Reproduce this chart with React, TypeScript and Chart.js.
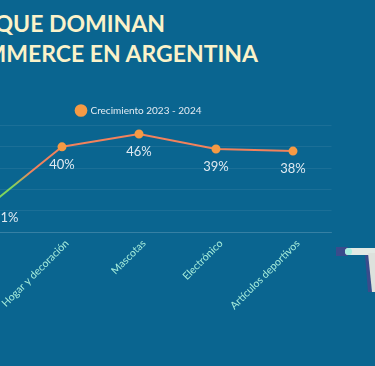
import React, { useEffect, useRef } from "react";
import { Chart, registerables } from "chart.js";

Chart.register(...registerables);

const categories = ["Moda e indumentaria", "Hogar y decoración", "Mascotas", "Electrónico", "Artículos deportivos"];
const growth = [11, 40, 46, 39, 38];
const seriesLabel = "Crecimiento 2023 - 2024";
const yMin = 0;
const yMax = 50;
const yStep = 10;
const titleLine1 = "RUBROS QUE DOMINAN";
const titleLine2 = "EL ECOMMERCE EN ARGENTINA";

const BG = "#0a6590";
const LINE = "#f2825c";
const POINT = "#f59a45";
const GREEN = "#7fd65c";

const valueLabels = {
  id: "valueLabels",
  afterDatasetsDraw(chart: any) {
    const ctx = chart.ctx;
    const meta = chart.getDatasetMeta(0);
    const data = chart.data.datasets[0].data;
    ctx.save();
    ctx.font = "13px Lato";
    ctx.fillStyle = "#dfe9f1";
    ctx.textBaseline = "middle";
    meta.data.forEach((pt: any, i: number) => {
      const txt = data[i] + "%";
      if (i === 0) {
        ctx.textAlign = "left";
        ctx.fillText(txt, pt.x + 8, pt.y + 9);
      } else {
        ctx.textAlign = "center";
        ctx.fillText(txt, pt.x, pt.y + 18);
      }
    });
    ctx.restore();
  },
};

export default function App() {
  const ref = useRef<HTMLCanvasElement>(null);
  useEffect(() => {
    const canvas = ref.current!;
    const chart = new Chart(canvas, {
      type: "line",
      data: {
        labels: categories,
        datasets: [
          {
            label: seriesLabel,
            data: growth,
            borderColor: LINE,
            backgroundColor: POINT,
            pointBackgroundColor: POINT,
            pointBorderColor: POINT,
            pointRadius: 3.5,
            borderWidth: 2,
            tension: 0,
            segment: {
              borderColor: (c: any) => {
                if (c.p0DataIndex === 0) {
                  const g = c.chart.ctx.createLinearGradient(c.p0.x, c.p0.y, c.p1.x, c.p1.y);
                  g.addColorStop(0, GREEN);
                  g.addColorStop(0.35, GREEN);
                  g.addColorStop(0.6, LINE);
                  g.addColorStop(1, LINE);
                  return g;
                }
                return LINE;
              },
            },
          },
        ],
      },
      options: {
        responsive: false,
        animation: false,
        layout: { padding: { left: 49.5, right: 43.5, top: 1.5, bottom: 53.5 } },
        plugins: {
          tooltip: { enabled: false },
          legend: {
            display: true,
            position: "top",
            labels: {
              usePointStyle: true,
              pointStyle: "circle",
              boxWidth: 9,
              boxHeight: 9,
              color: "#e3ebf2",
              font: { family: "Lato", size: 10 },
              padding: 11,
              generateLabels: (ch: any) =>
                Chart.defaults.plugins.legend.labels.generateLabels(ch).map((l: any) => ({
                  ...l,
                  fillStyle: POINT,
                  strokeStyle: POINT,
                  lineWidth: 0,
                })),
            },
          },
        },
        scales: {
          x: {
            offset: true,
            grid: { display: false },
            border: { display: true, color: "rgba(255,255,255,0.12)" },
            ticks: {
              color: "#a6eedc",
              font: { family: "Lato", size: 10.5 },
              minRotation: 45,
              maxRotation: 45,
              autoSkip: false,
              padding: -3,
              labelOffset: 5,
            },
          },
          y: {
            min: yMin,
            max: yMax,
            ticks: { display: false, stepSize: yStep },
            grid: { color: "rgba(255,255,255,0.07)", drawTicks: false },
            border: { display: false },
          },
        },
      },
      plugins: [valueLabels],
    });
    return () => chart.destroy();
  }, []);

  const titleStyle: React.CSSProperties = {
    position: "absolute",
    whiteSpace: "nowrap",
    color: "#fbf2c9",
    fontWeight: 700,
    fontSize: 23,
    lineHeight: "30px",
    textAlign: "right",
  };

  return (
    <div
      style={{
        position: "absolute",
        left: 0,
        top: 0,
        width: 375,
        height: 366,
        overflow: "hidden",
        background: BG,
        fontFamily: "Lato, sans-serif",
      }}
    >
      <div style={{ ...titleStyle, right: 210, top: 8 }}>{titleLine1}</div>
      <div style={{ ...titleStyle, right: 117, top: 38 }}>{titleLine2}</div>
      <canvas
        ref={ref}
        width={478}
        height={273}
        style={{ position: "absolute", left: -103, top: 93, width: 478, height: 273 }}
      />
      <svg width={375} height={366} style={{ position: "absolute", left: 0, top: 0, pointerEvents: "none" }}>
        <rect x={336} y={247} width={12} height={9} fill="#3a4c8c" />
        <polygon points="365,255 369,255 372,292 368,292" fill="#3a4c8c" />
        <rect x={345} y={248} width={34} height={7} rx={3.5} fill="#e2e9e4" />
        <circle cx={348.5} cy={251.5} r={3.5} fill="#a8f0e0" />
        <polygon points="368,253 377,253 377,292 372,292" fill="#dde1dc" />
      </svg>
    </div>
  );
}
